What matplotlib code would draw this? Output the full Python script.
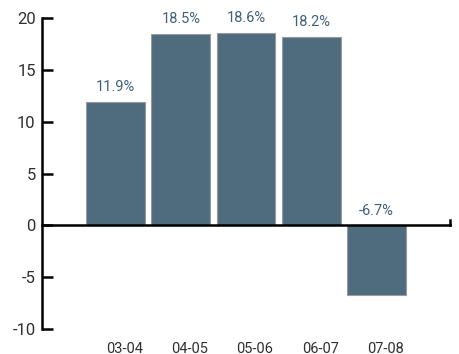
import matplotlib
matplotlib.use("Agg")
import matplotlib.pyplot as plt
import matplotlib.transforms as mtransforms

periods = ["03-04", "04-05", "05-06", "06-07", "07-08"]
growth = [11.9, 18.5, 18.6, 18.2, -6.7]
y_ticks = [-10, -5, 0, 5, 10, 15, 20]

plt.rcParams["font.family"] = ["Roboto", "DejaVu Sans"]

bar_color = "#4f6c7f"
label_color = "#41607a"
text_color = "#303030"

fig = plt.figure(figsize=(4.6, 3.54), dpi=100)
ax = fig.add_axes([0.0913, 0.0706, 0.887, 0.878])

x = list(range(len(periods)))
ax.bar(x, growth, width=0.9, color=bar_color, edgecolor="#9a9a9a", linewidth=0.8, zorder=2)

for xi, v in zip(x, growth):
    y = v + 0.75 if v > 0 else 0.75
    ax.text(xi, y, f"{v:.1f}%", ha="center", va="bottom", fontsize=10.5,
            color=label_color)

xmin, xmax = -1.13, 5.13
ax.set_xlim(xmin, xmax)
ax.set_ylim(-10, 20)

# zero line with a small end tick on the right
ax.plot([xmin, xmax], [0, 0], color="black", linewidth=1.8, zorder=3, clip_on=False)
ax.plot([xmax, xmax], [0, 0.55], color="black", linewidth=1.8, zorder=3, clip_on=False)

ax.set_xticks(x)
ax.set_xticklabels(periods, fontsize=10.5, color=text_color)
ax.tick_params(axis="x", length=0, pad=9)
# category labels sit a little right of the bar centres
shift = mtransforms.ScaledTranslation(9 / 100, 0, fig.dpi_scale_trans)
for lab in ax.get_xticklabels():
    lab.set_transform(lab.get_transform() + shift)

ax.set_yticks(y_ticks)
ax.set_yticklabels([str(t) for t in y_ticks], fontsize=12, color=text_color)
ax.tick_params(axis="y", direction="in", length=8, width=1.8, pad=4.5)

for side in ["top", "right", "bottom"]:
    ax.spines[side].set_visible(False)
ax.spines["left"].set_linewidth(1.8)

fig.savefig("out.png", dpi=100)
